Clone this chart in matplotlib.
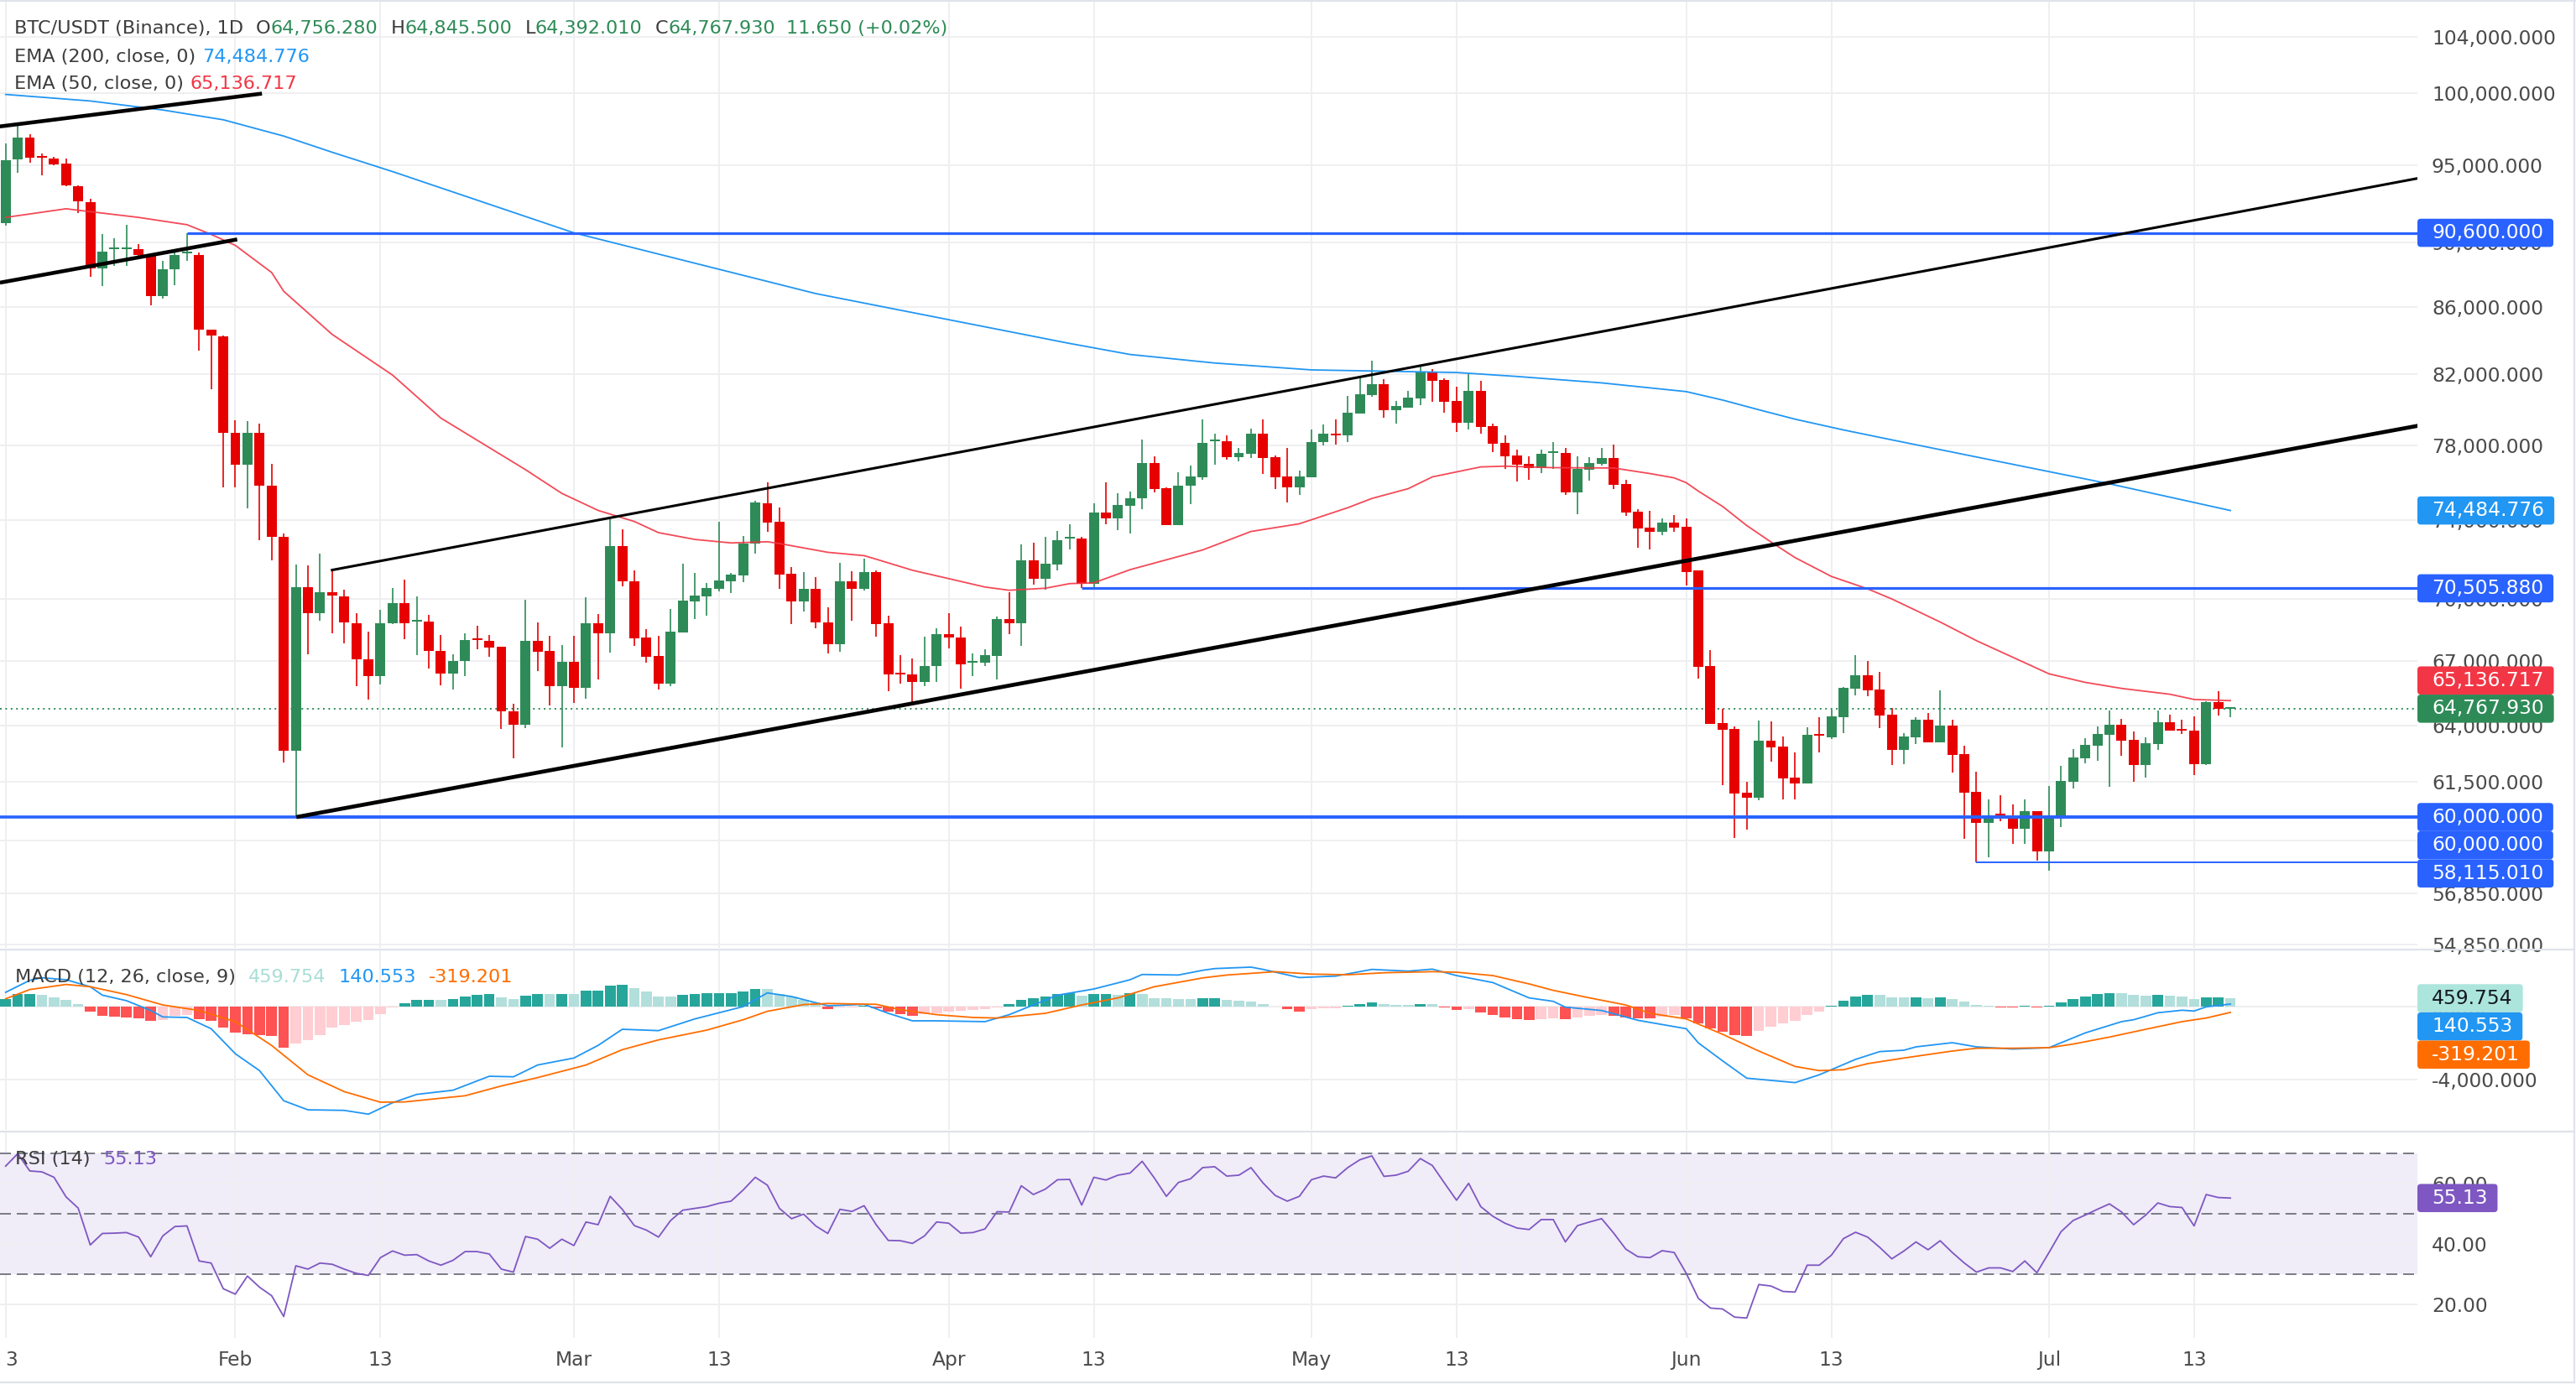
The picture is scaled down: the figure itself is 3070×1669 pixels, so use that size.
import numpy as np
import matplotlib
matplotlib.use('Agg')
import matplotlib.pyplot as plt
from matplotlib.ticker import FixedLocator, NullLocator, FuncFormatter
from matplotlib.patches import FancyBboxPatch
from matplotlib.lines import Line2D
from matplotlib.transforms import IdentityTransform, blended_transform_factory

plt.rcParams['font.family'] = ['DejaVu Sans']

# ---- daily BTC/USDT candles, index 0 = 13 Jan, last = 16 Jul ----
opens = [91200, 95400, 96890, 95600, 95470, 95120, 93630, 92590, 88330, 89550,
         89570, 89590, 89170, 86650, 88300, 89300, 89200, 84610, 84240, 78690,
         76910, 78690, 75780, 73120, 62860, 70560, 69270, 70300, 70100, 68810,
         67080, 66290, 68800, 69780, 68880, 68880, 67470, 66410, 66970, 68030,
         67950, 67640, 64660, 64030, 67950, 67470, 65820, 66950, 65740, 68800,
         68290, 72650, 70860, 68110, 67230, 65940, 68360, 69870, 70110, 70490,
         70870, 71160, 72750, 74870, 73890, 71230, 69870, 70460, 68850, 67780,
         70840, 70460, 71300, 68790, 66420, 66340, 65980, 66750, 68270, 68100,
         66920, 66920, 67230, 68990, 68800, 71910, 70980, 71710, 73020, 73020,
         70710, 74380, 74070, 74750, 75110, 77030, 75670, 73740, 75780, 76260,
         78200, 78220, 77360, 77540, 78640, 77340, 76300, 75730, 76270, 78170,
         78640, 78550, 79780, 80800, 81430, 79940, 80110, 80610, 82130, 81690,
         80470, 79240, 81040, 79050, 78130, 77410, 76960, 76740, 77550, 77570,
         75460, 76650, 76960, 77290, 75890, 74420, 73590, 73370, 73850, 73630,
         71400, 66730, 64110, 63850, 61030, 60830, 63320, 63050, 61690, 61440,
         63610, 63490, 64380, 65690, 66320, 65650, 64490, 62910, 63480, 64270,
         63250, 64000, 62720, 61060, 59760, 60110, 60010, 59520, 60260, 58570,
         59970, 61510, 62540, 63100, 63580, 64040, 63350, 62250, 63170, 64150,
         63850, 63770, 62290, 65060, 64756.28]
highs = [96470, 97880, 97120, 95820, 95600, 95500, 93660, 92780, 90520, 90280,
         91120, 89900, 89170, 88820, 89430, 90600, 89360, 84640, 84270, 79400,
         79350, 79190, 76960, 73270, 71700, 71660, 72260, 71420, 70440, 69270,
         68390, 69430, 70530, 70950, 70110, 69200, 68210, 67300, 68310, 68670,
         68230, 67660, 64990, 69950, 68830, 68190, 67760, 68190, 70070, 69250,
         74030, 73510, 71410, 68510, 68190, 69490, 71750, 71290, 70780, 73880,
         71290, 73170, 75000, 75970, 74640, 71570, 71300, 71060, 69570, 71780,
         71360, 72000, 71400, 69160, 67270, 67100, 68130, 68560, 69280, 68620,
         67350, 67550, 69110, 70320, 72720, 72810, 73110, 73430, 73770, 73110,
         74870, 75970, 75400, 75490, 78310, 77400, 75700, 76530, 76900, 79430,
         78640, 78550, 77850, 78920, 79430, 77430, 77850, 76620, 78880, 79160,
         79430, 80750, 81800, 82780, 81700, 80490, 81040, 82420, 82320, 81740,
         81260, 82010, 81620, 79200, 78550, 77750, 77380, 77750, 78160, 77840,
         77380, 77330, 77840, 78020, 76110, 74550, 74460, 74070, 74240, 74070,
         71400, 67520, 64760, 63960, 61510, 64230, 64190, 63510, 62800, 63920,
         64380, 64720, 65750, 67270, 67000, 66450, 64800, 63670, 64380, 64570,
         65600, 64270, 63100, 61950, 60760, 60940, 60540, 60760, 60260, 61330,
         62190, 62950, 63440, 63960, 64690, 64310, 63740, 63470, 64690, 64500,
         64270, 64420, 65100, 65560, 64845.5]
lows = [91040, 94520, 95180, 94360, 95020, 93600, 91890, 87850, 87270, 88510,
        88510, 89140, 86100, 86480, 87330, 88850, 83360, 81120, 75730, 75730,
        74600, 72950, 71910, 62350, 60000, 67310, 68920, 68300, 67840, 65790,
        65170, 65880, 68750, 68020, 67280, 66610, 65860, 65630, 66290, 67540,
        67200, 63860, 62530, 63900, 66490, 64900, 63030, 65040, 65240, 66130,
        67400, 70610, 67710, 66910, 65630, 65820, 68360, 68980, 69160, 70360,
        70270, 70820, 72260, 73370, 70490, 68760, 69370, 68550, 67350, 67430,
        68910, 70410, 68150, 65560, 65930, 65040, 65790, 65980, 67560, 65690,
        66280, 66760, 66130, 68270, 67710, 70700, 70450, 71400, 72480, 70505.88,
        70530, 73770, 73460, 73280, 74550, 75420, 73740, 73700, 74800, 76130,
        76950, 77220, 77120, 77310, 76450, 75640, 74930, 75330, 76270, 78000,
        78050, 78180, 79780, 80710, 79510, 79190, 80110, 80230, 80420, 79810,
        78730, 78880, 78640, 77620, 76700, 76020, 76110, 76470, 76720, 75320,
        74290, 76070, 76870, 75620, 74210, 72550, 72460, 73200, 73370, 70640,
        66160, 64070, 61370, 59110, 59470, 60720, 62390, 60760, 60760, 61440,
        62800, 63400, 63660, 65360, 65340, 63870, 62250, 62290, 63180, 63250,
        63250, 61920, 59090, 58115.01, 58330, 59830, 58890, 58890, 58190, 57780,
        59590, 61230, 62310, 62430, 61300, 62650, 61510, 61690, 62910, 63770,
        63620, 61810, 62250, 64460, 64392.01]
closes = [95340, 96890, 95510, 95550, 95090, 93660, 92620, 88330, 89430, 89600,
          89620, 89200, 86650, 88300, 89170, 89360, 84610, 84270, 78660, 76910,
          78690, 75780, 73120, 62860, 70560, 69270, 70300, 70150, 68850, 67080,
          66290, 68810, 69780, 68770, 68910, 67445, 66410, 66990, 67990, 67980,
          67610, 64630, 64030, 67950, 67440, 65820, 66950, 65740, 68800, 68290,
          72650, 70840, 68080, 67200, 65940, 68390, 69900, 70150, 70530, 70910,
          71200, 72780, 74930, 73870, 71200, 69870, 70460, 68840, 67780, 70840,
          70490, 71300, 68760, 66360, 66360, 65980, 66760, 68270, 68090, 66830,
          66960, 67270, 68990, 68800, 71910, 70980, 71740, 72940, 73060, 70710,
          74380, 74070, 74780, 75130, 77030, 75640, 73740, 75810, 76300, 78130,
          78270, 77360, 77570, 78640, 77310, 76270, 75730, 76300, 78180, 78640,
          78530, 79810, 80850, 81430, 79940, 80160, 80660, 82130, 81640, 80420,
          79240, 81040, 79010, 78080, 77390, 76920, 76740, 77510, 77600, 75460,
          76690, 77010, 77290, 75860, 74370, 73550, 73370, 73850, 73590, 71310,
          66710, 64070, 63810, 61000, 60830, 63320, 63010, 61660, 61440, 63570,
          63530, 64410, 65710, 66320, 65610, 64450, 62910, 63520, 64270, 63250,
          64000, 62690, 61030, 59760, 60080, 60060, 59520, 60260, 58570, 60040,
          61550, 62580, 63130, 63620, 64040, 63320, 62250, 63210, 64150, 63770,
          63780, 62290, 65060, 64756.28, 64767.93]

# EMA lines (day index, value)
ema200_day = [0, 7, 13, 18, 23, 27, 32, 47, 67, 88, 93, 100, 108, 120, 125, 132, 139, 142,
              145, 148, 152, 156, 163, 174, 184]
ema200_val = [99890, 99430, 98800, 98120, 97000, 95900, 94600, 90600, 86800, 83800, 83150,
              82650, 82250, 82100, 81870, 81500, 81000, 80520, 79970, 79440, 78840, 78290,
              77350, 75900, 74484.776]
ema50_day = [0, 5, 11, 15, 17, 19, 22, 23, 27, 32, 36, 43, 46, 49, 52, 54, 57, 60, 63, 64, 68,
             71, 72, 75, 78, 81, 83, 86, 88, 90, 93, 99, 103, 107, 111, 113, 116, 118, 120,
             122, 124, 128, 133, 136, 138, 139, 140, 142, 144, 146, 148, 151, 154, 156, 160,
             163, 167, 169, 172, 175, 179, 181, 184]
ema50_val = [91590, 92150, 91590, 91120, 90500, 89800, 88100, 86940, 84340, 81950, 79500,
             76660, 75390, 74490, 73910, 73330, 72980, 72800, 72860, 72770, 72320,
             72150, 71970, 71410, 70990, 70570, 70410, 70510, 70740, 70780, 71440,
             72440, 73390, 73790, 74630, 75120, 75640, 76270, 76540, 76810, 76850,
             76770, 76750, 76450, 76220, 75960, 75510, 74700, 73700, 72850, 72050,
             71100, 70480, 69980, 68850, 67950, 66900, 66380, 65980, 65700, 65430,
             65190, 65136.717]

# MACD (12, 26, 9)
macd_hist = [430, 690, 690, 630, 510, 385, 155, -290, -490, -555,
             -600, -630, -800, -725, -525, -450, -680, -800, -1170, -1450,
             -1525, -1560, -1620, -2265, -2050, -1830, -1570, -1170, -1000, -850,
             -725, -430, -60, 200, 355, 385, 355, 430, 555, 660,
             710, 510, 430, 615, 710, 680, 710, 695, 865, 895,
             1170, 1220, 1015, 830, 570, 560, 660, 690, 740, 750,
             760, 850, 985, 970, 710, 555, 355, 230, -140, -60,
             -30, 45, -110, -290, -400, -490, -415, -355, -280, -230,
             -200, -140, -60, 125, 385, 480, 555, 710, 755, 600,
             680, 680, 630, 755, 695, 480, 445, 415, 410, 470,
             480, 385, 325, 290, 125, -15, -140, -260, -140, -110,
             -75, 60, 155, 245, 155, 110, 90, 155, 140, -45,
             -170, -160, -325, -445, -600, -680, -725, -680, -650, -695,
             -585, -495, -445, -525, -585, -630, -635, -555, -445, -630,
             -940, -1215, -1370, -1555, -1600, -1325, -1095, -940, -785, -480,
             -260, 60, 325, 555, 660, 650, 525, 520, 525, 480,
             525, 430, 290, 110, 60, -30, -60, 45, -60, 60,
             230, 430, 570, 710, 755, 750, 660, 615, 660, 600,
             570, 430, 525, 530, 459.754]
macd_day = [0, 2, 3, 5, 7, 8, 10, 12, 13, 15, 17, 19, 21, 23, 25, 28, 30, 32, 34, 37, 40, 42,
            44, 47, 49, 51, 54, 57, 61, 63, 65, 68, 71, 73, 75, 77, 81, 83, 85, 87, 90, 93,
            94, 97, 99, 100, 103, 104, 107, 110, 113, 116, 118, 120, 123, 126, 128, 129, 132,
            135, 139, 140, 142, 144, 148, 150, 153, 155, 157, 158, 161, 163, 166, 169, 172,
            175, 176, 178, 180, 181, 182, 184]
macd_val = [785, 1450, 1590, 1480, 1095, 630, 325, -215, -570, -600, -1220, -2600, -3530,
            -5190, -5690, -5720, -5930, -5300, -4840, -4610, -3840, -3870, -3220, -2835,
            -2140, -1250, -1325, -680, 0, 755, 555, 45, 125, -370, -785, -785, -830, -445,
            90, 630, 970, 1480, 1770, 1740, 2000, 2095, 2175, 2050, 1600, 1680, 2050, 1955,
            2065, 1710, 1325, 480, 290, -30, -215, -755, -1220, -2000, -2990, -3945, -4190,
            -3760, -2910, -2480, -2405, -2220, -1990, -2220, -2340, -2265, -1450, -830,
            -725, -340, -200, -245, -15, 140.553]
signal_day = [0, 2, 5, 7, 10, 13, 16, 19, 22, 25, 28, 31, 33, 38, 41, 44, 48, 51, 54, 58, 61,
              63, 66, 68, 72, 74, 77, 80, 82, 86, 89, 92, 95, 99, 101, 105, 108, 111, 114,
              118, 120, 123, 126, 128, 131, 134, 136, 139, 142, 145, 148, 150, 152, 154, 157,
              161, 163, 166, 169, 171, 174, 177, 180, 182, 184]
signal_val = [430, 940, 1220, 1095, 660, 90, -215, -830, -2140, -3760, -4685, -5270, -5255,
              -4915, -4375, -3915, -3220, -2375, -1835, -1295, -725, -260, 110, 170, 125,
              -170, -445, -600, -630, -370, 90, 480, 1095, 1580, 1740, 1925, 1790, 1755,
              1865, 1925, 1895, 1710, 1250, 895, 480, 90, -370, -680, -1525, -2450, -3300,
              -3530, -3480, -3145, -2835, -2450, -2295, -2295, -2265, -2065, -1680, -1250,
              -830, -630, -319.201]

# RSI (14)
rsi = [65.7, 69.8, 64.1, 63.8, 62.0, 55.5, 51.8, 39.6, 43.4, 43.5,
       43.7, 42.2, 35.7, 42.6, 45.7, 45.9, 34.3, 33.6, 25.1, 23.3,
       29.3, 25.6, 22.8, 15.9, 32.7, 31.6, 33.6, 33.2, 31.6, 30.2,
       29.5, 35.4, 37.6, 36.2, 36.4, 34.3, 32.9, 34.5, 37.4, 37.4,
       36.6, 31.6, 30.6, 42.4, 41.5, 38.5, 41.5, 39.4, 47.2, 46.3,
       55.7, 51.4, 46.0, 44.5, 42.2, 47.7, 51.1, 51.7, 52.3, 53.4,
       54.1, 57.8, 62.0, 59.4, 51.7, 48.3, 49.8, 45.9, 43.4, 51.4,
       50.7, 52.6, 46.3, 41.1, 41.0, 40.1, 42.6, 47.2, 46.8, 43.5,
       43.7, 44.9, 50.6, 50.5, 59.2, 56.3, 58.1, 61.2, 61.3, 52.8,
       62.0, 61.1, 62.7, 63.4, 67.3, 61.8, 55.7, 60.3, 61.5, 65.2,
       65.5, 62.4, 62.7, 65.2, 60.1, 56.0, 54.1, 55.7, 61.2, 62.4,
       61.8, 65.2, 67.8, 69.1, 62.3, 62.7, 64.0, 68.2, 65.9, 60.1,
       54.4, 60.0, 52.3, 49.1, 46.8, 45.2, 44.7, 48.0, 48.0, 40.6,
       46.0, 47.2, 48.3, 43.5, 38.2, 35.7, 35.4, 37.7, 37.1, 30.2,
       21.9, 18.7, 18.4, 15.7, 15.4, 26.5, 26.0, 24.2, 24.0, 32.9,
       32.9, 36.2, 41.7, 43.8, 42.2, 38.8, 35.0, 37.6, 40.6, 38.0,
       41.0, 37.1, 33.6, 30.6, 32.0, 32.0, 30.8, 34.3, 30.4, 37.1,
       44.0, 47.7, 49.5, 51.4, 53.2, 50.5, 46.3, 49.5, 53.5, 52.3,
       52.0, 45.9, 56.3, 55.3, 55.13]

# drawn levels and trendlines (day index, price)
levels = [(15, 90600.0), (89, 70505.88), (-0.5, 60000.0), (24, 60000.0), (163, 58115.01)]
trendlines = [((-0.47, 97660), (21.2, 99950)),
              ((-0.47, 87470), (19.15, 90180)),
              ((24.05, 60000), (199.5, 79070)),
              ((26.9, 71410), (199.5, 94150))]

price_ticks = [104000, 100000, 95000, 90000, 86000, 82000, 78000, 74000, 70000,
               67000, 64000, 61500, 59000, 56850, 54850]
date_ticks = [0, 19, 31, 47, 59, 78, 90, 108, 120, 139, 151, 169, 181]
date_labels = ['3', 'Feb', '13', 'Mar', '13', 'Apr', '13', 'May', '13', 'Jun', '13', 'Jul', '13']

GREEN = '#2e8b57'
RED = '#e60000'
BLUE = '#2962ff'
EMA200_C = '#2196f3'
EMA50_C = '#f23645'
TXT = '#3d3d3d'
AXT = '#4a4a4a'
GRID = '#efeff1'
SEP = '#e0e3eb'

W, H = 3070, 1669
PLOT_R = 2881
fig = plt.figure(figsize=(W / 100, H / 100), dpi=100)
fig.patch.set_facecolor('white')


def panel(top, bottom):
    a = fig.add_axes([0, 1 - bottom / H, PLOT_R / W, (bottom - top) / H])
    for s in a.spines.values():
        s.set_visible(False)
    a.set_xlim(-0.465, 199.47)
    a.set_xticks(date_ticks)
    a.tick_params(axis='x', length=0, labelbottom=False)
    a.yaxis.tick_right()
    a.tick_params(axis='y', length=0, pad=12.2, labelsize=16.8, labelcolor=AXT)
    a.grid(True, color=GRID, lw=1.4)
    a.set_axisbelow(True)
    return a


ax = panel(0, 1130)
axm = panel(1133, 1347)
axr = panel(1350, 1595)

# ---------- price panel ----------
ax.set_yscale('log')
ax.set_ylim(54712, 106770)
ax.yaxis.set_major_locator(FixedLocator(price_ticks))
ax.yaxis.set_minor_locator(NullLocator())
ax.yaxis.set_major_formatter(FuncFormatter(lambda v, p: f'{v:,.3f}'))

x = np.arange(len(closes))
o = np.array(opens, float)
c = np.array(closes, float)
cols = np.where(c >= o, GREEN, RED)
ax.axhline(closes[-1], color=GREEN, lw=1.4, ls=(0, (1, 2.3)), zorder=1.5)
ax.vlines(x, lows, highs, colors=cols, lw=1.2, zorder=2)
ax.bar(x, np.maximum(np.abs(c - o), c * 0.0012), bottom=np.minimum(o, c),
       width=0.83, color=cols, lw=0, zorder=2.1)
ax.plot(ema200_day, ema200_val, color=EMA200_C, lw=1.3, zorder=3)
ax.plot(ema50_day, ema50_val, color=EMA50_C, lw=1.3, alpha=0.9, zorder=3)

xmax = 199.47
lw_lv = [2.3, 2.3, 2.6, 2.6, 1.4]
for (d, p), lw in zip(levels, lw_lv):
    ax.plot([d, xmax], [p, p], color=BLUE, lw=lw, zorder=4, solid_capstyle='butt')
for (p0, p1), lw in zip(trendlines, [3.3, 3.3, 3.4, 2.2]):
    ax.plot([p0[0], p1[0]], [p0[1], p1[1]], color='black', lw=lw, zorder=4.5,
            solid_capstyle='butt')

# ---------- MACD panel ----------
axm.set_ylim(-6797, 3098)
axm.yaxis.set_major_locator(FixedLocator([0, -4000]))
axm.yaxis.set_major_formatter(FuncFormatter(lambda v, p: f'{v:,.3f}'))
hist = np.array(macd_hist, float)
prev = np.concatenate([[hist[0] - 1], hist[:-1]])
hcols = np.where(hist >= 0, np.where(hist >= prev, '#26a69a', '#b2dfdb'),
                 np.where(hist < prev, '#ff5252', '#ffcdd2'))
axm.bar(x, hist, width=0.88, color=hcols, lw=0, zorder=2)
axm.plot(macd_day, macd_val, color='#2196f3', lw=1.3, zorder=3)
axm.plot(signal_day, signal_val, color='#ff6d00', lw=1.3, zorder=3)

# ---------- RSI panel ----------
axr.set_ylim(8.81, 76.86)
axr.yaxis.set_major_locator(FixedLocator([20, 40, 60]))
axr.yaxis.set_major_formatter(FuncFormatter(lambda v, p: f'{v:.2f}'))
axr.axhspan(30, 70, color='#7e57c2', alpha=0.11, lw=0, zorder=0.5)
for lv in (70, 50, 30):
    axr.axhline(lv, color='#787b86', lw=1.4, ls=(0, (6.7, 3.6)), zorder=1)
axr.plot(x, rsi, color='#7e57c2', lw=1.3, zorder=3)

# time axis labels
tr = blended_transform_factory(axr.transData, axr.transAxes)
for d, lab in zip(date_ticks, date_labels):
    axr.text(d, -26 / 245, lab, transform=tr, ha='left' if d == 0 else 'center',
             va='center', fontsize=16.8, color=AXT, clip_on=False)

# ---------- frame lines ----------
for yy in (1131.5, 1348.5, 1648):
    fig.add_artist(Line2D([0, 3068], [H - yy, H - yy], color=SEP, lw=1.6,
                          transform=IdentityTransform()))
fig.add_artist(Line2D([0, 3070], [H - 1, H - 1], color=SEP, lw=1.6, transform=IdentityTransform()))
fig.add_artist(Line2D([3068, 3068], [H - 1648, H], color=SEP, lw=1.6, transform=IdentityTransform()))

renderer = fig.canvas.get_renderer()


def text_row(x0, ytop, parts, size):
    xx = x0
    for s, col, gap in parts:
        xx += gap
        t = fig.text(xx, H - ytop, s, color=col, fontsize=size, va='center', ha='left',
                     transform=IdentityTransform())
        xx = t.get_window_extent(renderer).x1


chg = closes[-1] - closes[-2]
pct = chg / closes[-2] * 100
text_row(17, 34, [('BTC/USDT (Binance), 1D', TXT, 0),
                  ('O', TXT, 15), (f'{opens[-1]:,.3f}', GREEN, 0),
                  ('H', TXT, 15), (f'{highs[-1]:,.3f}', GREEN, 0),
                  ('L', TXT, 15), (f'{lows[-1]:,.3f}', GREEN, 0),
                  ('C', TXT, 15), (f'{closes[-1]:,.3f}', GREEN, 0),
                  (f'{chg:,.3f} ({pct:+.2f}%)', GREEN, 13)], 16.1)
text_row(17, 67.5, [('EMA (200, close, 0)', TXT, 0), (f'{ema200_val[-1]:,.3f}', EMA200_C, 8)], 16.1)
text_row(17, 100, [('EMA (50, close, 0)', TXT, 0), (f'{ema50_val[-1]:,.3f}', EMA50_C, 8)], 16.1)
text_row(18, 1165, [('MACD (12, 26, close, 9)', TXT, 0), (f'{macd_hist[-1]:,.3f}', '#a8ded5', 15),
                    (f'{macd_val[-1]:,.3f}', '#2196f3', 15), (f'{signal_val[-1]:,.3f}', '#ff6d00', 15)], 16.1)
text_row(18, 1381.5, [('RSI (14)', TXT, 0), (f'{rsi[-1]:.2f}', '#7e57c2', 16)], 16.1)

# ---------- right-hand value tags ----------
BOX_H = 33.6


def ytop_of(a, v):
    return H - a.transData.transform((0, v))[1]


def tag(ytop, s, face, fg='white'):
    yd = H - ytop
    t = fig.text(2898, yd, s, color=fg, fontsize=16.8, va='center', ha='left',
                 transform=IdentityTransform(), zorder=6)
    w = t.get_window_extent(renderer).width
    fig.add_artist(FancyBboxPatch((PLOT_R, yd - BOX_H / 2), 17 + w + 12, BOX_H,
                                  boxstyle='round,pad=0,rounding_size=4', fc=face, ec='none',
                                  transform=IdentityTransform(), zorder=5))


tag(ytop_of(ax, 90600), '90,600.000', BLUE)
tag(ytop_of(ax, ema200_val[-1]), f'{ema200_val[-1]:,.3f}', EMA200_C)
tag(ytop_of(ax, 70505.88), '70,505.880', BLUE)
y_last = ytop_of(ax, closes[-1])
tag(y_last, f'{closes[-1]:,.3f}', GREEN)
tag(min(ytop_of(ax, ema50_val[-1]), y_last - BOX_H), f'{ema50_val[-1]:,.3f}', EMA50_C)
y60 = ytop_of(ax, 60000)
tag(y60, '60,000.000', BLUE)
y60b = max(y60, y60 + BOX_H)
tag(y60b, '60,000.000', BLUE)
tag(max(ytop_of(ax, 58115.01), y60b + BOX_H), '58,115.010', BLUE)

yh = ytop_of(axm, macd_hist[-1])
tag(yh, f'{macd_hist[-1]:,.3f}', '#ace5dc', fg='#131722')
ym = max(ytop_of(axm, macd_val[-1]), yh + BOX_H)
tag(ym, f'{macd_val[-1]:,.3f}', '#2196f3')
tag(max(ytop_of(axm, signal_val[-1]), ym + BOX_H), f'{signal_val[-1]:,.3f}', '#ff6d00')
tag(ytop_of(axr, rsi[-1]), f'{rsi[-1]:.2f}', '#7e57c2')

fig.savefig('out.png', dpi=100, facecolor='white')
